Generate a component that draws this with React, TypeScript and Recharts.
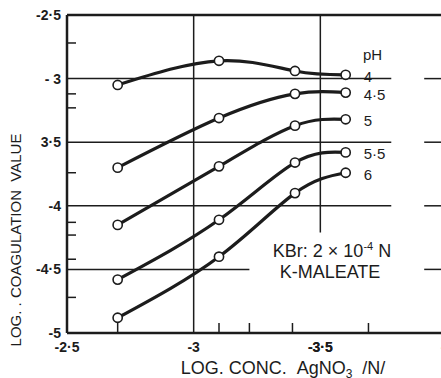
import {
  ComposedChart,
  Line,
  XAxis,
  YAxis,
  ReferenceLine,
  LabelList,
  Customized,
} from "recharts";

// log conc AgNO3 (x) and log coagulation value for each pH
const logConc = [-2.7, -3.1, -3.4, -3.6];
const ph4 = [-3.05, -2.86, -2.94, -2.97];
const ph45 = [-3.7, -3.31, -3.12, -3.11];
const ph5 = [-4.15, -3.69, -3.37, -3.32];
const ph55 = [-4.58, -4.11, -3.66, -3.58];
const ph6 = [-4.88, -4.4, -3.9, -3.74];

const phNames = ["4", "4·5", "5", "5·5", "6"];
const phKeys = ["ph4", "ph45", "ph5", "ph55", "ph6"];

const xMajor = [-2.5, -3, -3.5, -4];
const xMinor = [-2.7, -3.1, -3.22, -3.39, -3.5, -3.69];
const yMajor = [-2.5, -3, -3.5, -4, -4.5, -5];
const yMinor = [-2.72, -3.12, -3.23, -3.74, -4.13, -4.23, -4.42, -4.72];

const xTickText: Record<string, string> = {
  "-2.5": "-2·5",
  "-3": "-3",
  "-3.5": "-3·5",
  "-4": "-4",
};
const yTickText: Record<string, string> = {
  "-2.5": "-2·5",
  "-3": "- 3",
  "-3.5": "3·5",
  "-4": "-4",
  "-4.5": "-4·5",
  "-5": "-5",
};

const data = logConc.map((x, i) => ({
  x,
  ph4: ph4[i],
  ph45: ph45[i],
  ph5: ph5[i],
  ph55: ph55[i],
  ph6: ph6[i],
}));

const INK = "#1c1c1c";
const FONT = "'Liberation Sans', Arial, sans-serif";
const SP = "\u00a0";

const XTick = (props: any) => {
  const { x, y, payload } = props;
  const label = xTickText[String(payload.value)];
  if (label) {
    return (
      <text x={x} y={y + 19} textAnchor="middle" fontFamily={FONT} fontSize={14} fontWeight={700} fill={INK}>
        {label}
      </text>
    );
  }
  return <line x1={x} y1={y} x2={x} y2={y - 10} stroke={INK} strokeWidth={1.5} />;
};

const YTick = (props: any) => {
  const { x, y, payload } = props;
  const label = yTickText[String(payload.value)];
  if (label) {
    return (
      <text x={x - 6} y={y + 5} textAnchor="end" fontFamily={FONT} fontSize={14} fontWeight={700} fill={INK}>
        {label}
      </text>
    );
  }
  return <line x1={x} y1={y} x2={x + 9} y2={y} stroke={INK} strokeWidth={1.5} />;
};

const Dot = (props: any) => {
  const { cx, cy } = props;
  return <circle cx={cx} cy={cy} r={4.6} fill="#fff" stroke={INK} strokeWidth={1.6} />;
};

const phLabel = (name: string) => (props: any) => {
  const { x, y, index } = props;
  if (index !== logConc.length - 1) return null;
  return (
    <text x={x + 18} y={y + 7} fontFamily={FONT} fontSize={15} fill={INK}>
      {name}
    </text>
  );
};

const Notes = () => (
  <g fontFamily={FONT} fill={INK}>
    <text x={363} y={60} fontSize={15}>pH</text>
    <text x={332} y={257} fontSize={18} textAnchor="middle">
      KBr: 2 × 10
      <tspan dy={-7} fontSize={11}>-4</tspan>
      <tspan dy={7}>{SP}N</tspan>
    </text>
    <text x={330} y={278} fontSize={18} textAnchor="middle">K-MALEATE</text>
    <text x={283} y={374} fontSize={18} textAnchor="middle">
      {`LOG.${SP}CONC.${SP}${SP}AgNO`}
      <tspan dy={4} fontSize={12}>3</tspan>
      <tspan dy={-4}>{`${SP}${SP}/N/`}</tspan>
    </text>
    <text
      x={21}
      y={240}
      fontSize={15}
      textAnchor="middle"
      transform="rotate(-90 21 240)"
    >
      {`LOG.${SP}.${SP}COAGULATION${SP}${SP}VALUE`}
    </text>
  </g>
);

const grid = { stroke: INK, strokeWidth: 1.5 };

export default function App() {
  return (
    <div
      style={{
        position: "absolute",
        left: 0,
        top: 0,
        width: 441,
        height: 378,
        overflow: "hidden",
        background: "#fff",
      }}
    >
      <ComposedChart
        width={447}
        height={378}
        data={data}
        margin={{ top: 15, right: 0, bottom: 0, left: 0 }}
      >
        <XAxis
          dataKey="x"
          type="number"
          domain={[-4, -2.5]}
          reversed
          allowDataOverflow
          ticks={[...xMajor, ...xMinor]}
          interval={0}
          tick={<XTick />}
          tickLine={false}
          tickSize={0}
          tickMargin={0}
          height={45}
          axisLine={{ stroke: INK, strokeWidth: 2.5 }}
        />
        <YAxis
          type="number"
          domain={[-5, -2.5]}
          allowDataOverflow
          ticks={[...yMajor, ...yMinor]}
          interval={0}
          tick={<YTick />}
          tickLine={false}
          tickSize={0}
          tickMargin={0}
          width={67}
          axisLine={{ stroke: INK, strokeWidth: 2.5 }}
        />

        <ReferenceLine y={-2.5} stroke={INK} strokeWidth={2.5} />
        <ReferenceLine segment={[{ x: -3, y: -2.5 }, { x: -3, y: -5 }]} {...grid} />
        <ReferenceLine segment={[{ x: -3.5, y: -2.5 }, { x: -3.5, y: -4.21 }]} {...grid} />
        {[-3, -3.5, -4].map((v) => (
          <ReferenceLine key={"a" + v} segment={[{ x: -2.5, y: v }, { x: -3.78, y: v }]} {...grid} />
        ))}
        <ReferenceLine segment={[{ x: -2.5, y: -4.5 }, { x: -3.22, y: -4.5 }]} {...grid} />
        {[-3, -3.5, -4, -4.5].map((v) => (
          <ReferenceLine key={"b" + v} segment={[{ x: -3.91, y: v }, { x: -4, y: v }]} {...grid} />
        ))}

        {phKeys.map((k, i) => (
          <Line
            key={k}
            dataKey={k}
            type="natural"
            stroke={INK}
            strokeWidth={3.2}
            dot={<Dot />}
            activeDot={false}
            isAnimationActive={false}
          >
            <LabelList dataKey={k} content={phLabel(phNames[i])} />
          </Line>
        ))}

        <Customized component={Notes} />
      </ComposedChart>
    </div>
  );
}
